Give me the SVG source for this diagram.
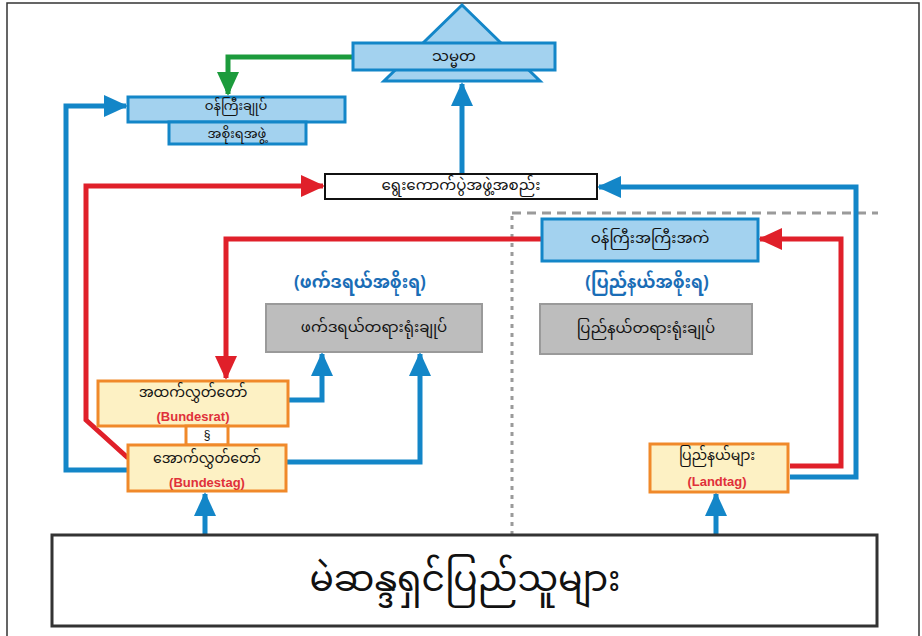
<svg xmlns="http://www.w3.org/2000/svg" width="922" height="636" viewBox="0 0 922 636">
<defs>
<style>
.my{font-family:"Noto Sans Myanmar","Noto Sans","DejaVu Sans",sans-serif;text-anchor:middle;dominant-baseline:central;fill:#111}
.lat{font-family:"Liberation Sans","DejaVu Sans",sans-serif;text-anchor:middle;dominant-baseline:central;font-weight:bold;fill:#e0303a;font-size:13px}
.bluebox{fill:#a3d2ef;stroke:#1386c8;stroke-width:3}
.graybox{fill:#bdbdbd;stroke:#9a9a9a;stroke-width:2}
.ybox{fill:#fdf1c4;stroke:#f0892a;stroke-width:3}
.b{fill:none;stroke:#1386c8;stroke-width:5}
.r{fill:none;stroke:#e0202a;stroke-width:5}
.g{fill:none;stroke:#1c9b3c;stroke-width:5}
</style>
<marker id="ab" markerUnits="userSpaceOnUse" markerWidth="24" markerHeight="24" viewBox="0 0 24 24" refX="22" refY="12" orient="auto"><path d="M0,1 L24,12 L0,23 Z" fill="#1386c8"/></marker>
<marker id="ar" markerUnits="userSpaceOnUse" markerWidth="24" markerHeight="24" viewBox="0 0 24 24" refX="22" refY="12" orient="auto"><path d="M0,1 L24,12 L0,23 Z" fill="#e0202a"/></marker>
<marker id="ag" markerUnits="userSpaceOnUse" markerWidth="24" markerHeight="24" viewBox="0 0 24 24" refX="22" refY="12" orient="auto"><path d="M0,1 L24,12 L0,23 Z" fill="#1c9b3c"/></marker>
</defs>
<rect x="0" y="0" width="922" height="636" fill="#fff"/>
<rect x="7" y="3" width="912" height="650" fill="none" stroke="#333" stroke-width="1.5"/>

<g id="dividers">
<line x1="512" y1="213" x2="878" y2="213" stroke="#9a9a9a" stroke-width="3" stroke-dasharray="9,6"/>
<line x1="512" y1="216" x2="512" y2="535" stroke="#9a9a9a" stroke-width="3" stroke-dasharray="4,5"/>
</g>

<g id="connectors">
<path class="g" d="M352,57 H228 V91"/>
<path class="g" d="M228,80 V94" marker-end="url(#ag)"/>
<path class="b" d="M128,470 H66 V106 H126" marker-end="url(#ab)"/>
<path class="b" d="M462,174 V84" marker-end="url(#ab)"/>
<path class="r" d="M128,458 L86,420 V186 H323" marker-end="url(#ar)"/>
<path class="b" d="M790,477 H856 V187 H599" marker-end="url(#ab)"/>
<path class="r" d="M790,466 H841 V239 H760" marker-end="url(#ar)"/>
<path class="r" d="M542,239 H226 V378" marker-end="url(#ar)"/>
<path class="b" d="M288,400 H322 V354" marker-end="url(#ab)"/>
<path class="b" d="M286,462 H420 V354" marker-end="url(#ab)"/>
<path class="b" d="M205,535 V494" marker-end="url(#ab)"/>
<path class="b" d="M716,535 V494" marker-end="url(#ab)"/>
</g>

<g id="president">
<polygon points="462,5 540,81 384,81" class="bluebox"/>
<rect x="353" y="43" width="202" height="27" class="bluebox"/>
<text x="454" y="57" class="my" font-size="15">သမ္မတ</text>
</g>

<g id="chancellor">
<rect x="128" y="97" width="217" height="25" class="bluebox"/>
<text x="236" y="107" class="my" font-size="13">ဝန်ကြီးချုပ်</text>
</g>
<g id="cabinet">
<rect x="169" y="122" width="137" height="22" class="bluebox"/>
<text x="237" y="135" class="my" font-size="13">အစိုးရအဖွဲ့</text>
</g>

<g id="electoral">
<rect x="325" y="174" width="272" height="25" fill="#fff" stroke="#111" stroke-width="2"/>
<text x="461" y="186" class="my" font-size="15">ရွေးကောက်ပွဲအဖွဲ့အစည်း</text>
</g>

<g id="premier">
<rect x="542" y="219" width="216" height="42" class="bluebox"/>
<text x="650" y="239" class="my" font-size="15">ဝန်ကြီးအကြီးအကဲ</text>
</g>

<g id="labels">
<text x="360" y="284" class="my" font-size="17" style="fill:#1a6db6;font-weight:bold">(ဖက်ဒရယ်အစိုးရ)</text>
<text x="647" y="284" class="my" font-size="17" style="fill:#1a6db6;font-weight:bold">(ပြည်နယ်အစိုးရ)</text>
</g>

<g id="federal-court">
<rect x="266" y="304" width="216" height="48" class="graybox"/>
<text x="374" y="328" class="my" font-size="15">ဖက်ဒရယ်တရားရုံးချုပ်</text>
</g>
<g id="state-court">
<rect x="540" y="304" width="212" height="50" class="graybox"/>
<text x="646" y="329" class="my" font-size="15">ပြည်နယ်တရားရုံးချုပ်</text>
</g>

<g id="bundesrat">
<rect x="98" y="381" width="190" height="45" class="ybox"/>
<text x="193" y="393" class="my" font-size="14">အထက်လွှတ်တော်</text>
<text x="193" y="416" class="lat">(Bundesrat)</text>
</g>
<g id="section">
<rect x="186" y="426" width="42" height="19" fill="#fff" stroke="#f0892a" stroke-width="3"/>
<text x="207" y="435" class="lat" style="fill:#111;font-weight:normal;font-size:12px">§</text>
</g>
<g id="bundestag">
<rect x="128" y="445" width="158" height="46" class="ybox"/>
<text x="207" y="459" class="my" font-size="14">အောက်လွှတ်တော်</text>
<text x="207" y="482" class="lat">(Bundestag)</text>
</g>
<g id="landtag">
<rect x="650" y="444" width="138" height="48" class="ybox"/>
<text x="717" y="456" class="my" font-size="14">ပြည်နယ်များ</text>
<text x="717" y="481" class="lat">(Landtag)</text>
</g>

<g id="citizens">
<rect x="52" y="535" width="825" height="91" fill="#fff" stroke="#333" stroke-width="3"/>
<text x="465" y="582" class="my" font-size="36">မဲဆန္ဒရှင်ပြည်သူများ</text>
</g>
</svg>
